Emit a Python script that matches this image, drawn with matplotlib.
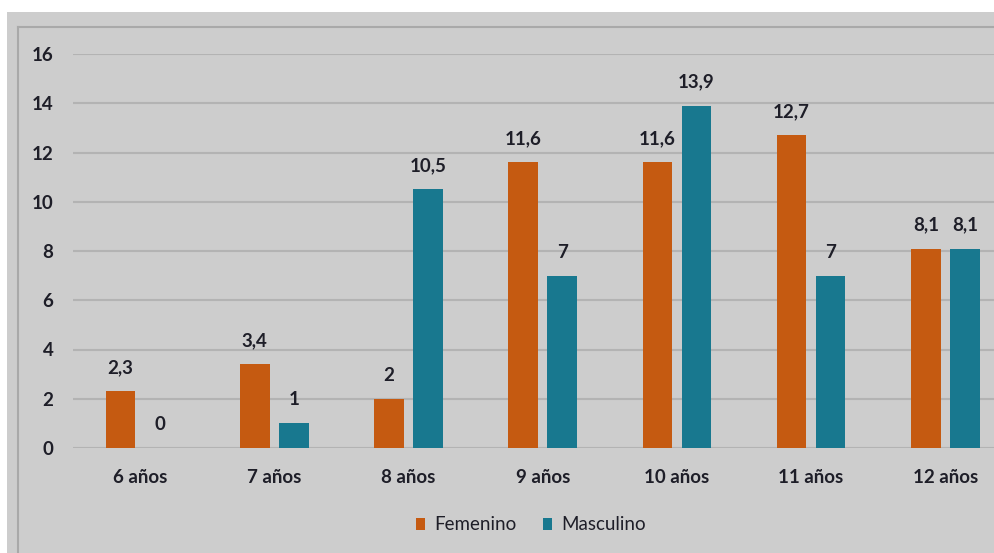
import numpy as np
import matplotlib.pyplot as plt
from matplotlib.patches import Rectangle
from matplotlib.lines import Line2D

plt.rcParams['font.family'] = ['Lato', 'DejaVu Sans']

edades = ['6 años', '7 años', '8 años', '9 años', '10 años', '11 años', '12 años']
femenino = [2.3, 3.4, 2.0, 11.6, 11.6, 12.7, 8.1]
masculino = [0, 1, 10.5, 7, 13.9, 7, 8.1]

naranja = '#c55a11'
azul = '#18788f'
texto = '#1e1e28'
fondo = '#cdcdcd'
fs = 13.5

fig = plt.figure(figsize=(9.94, 5.53), dpi=100)
fig.patch.set_facecolor('white')

# gray panel with the inner frame line, kept behind the axes
W, H = 994, 553
fig.patches.append(Rectangle((7 / W, 0), 1, 1 - 12 / H, transform=fig.transFigure,
                             facecolor=fondo, edgecolor='none', zorder=-2))
fig.lines.append(Line2D([18 / W, 18 / W], [0, 1 - 27 / H], transform=fig.transFigure,
                        color='#a9a9a9', lw=1.5, zorder=-1))
fig.lines.append(Line2D([18 / W, 1], [1 - 27 / H, 1 - 27 / H], transform=fig.transFigure,
                        color='#a9a9a9', lw=1.5, zorder=-1))

ax = fig.add_axes([73 / W, (H - 448) / H, (W - 73) / W, (448 - 54) / H])
ax.set_facecolor('none')

x = np.arange(len(edades))
ancho = 0.22
sep = 0.145
b1 = ax.bar(x - sep, femenino, ancho, color=naranja, label='Femenino', zorder=3)
b2 = ax.bar(x + sep, masculino, ancho, color=azul, label='Masculino', zorder=3)

def etiqueta(v):
    return ('%g' % v).replace('.', ',')

for barras, vals in ((b1, femenino), (b2, masculino)):
    for b, v in zip(barras, vals):
        ax.annotate(etiqueta(v), (b.get_x() + b.get_width() / 2, v),
                    xytext=(0, 17), textcoords='offset points',
                    ha='center', va='center', fontsize=fs, fontweight='bold',
                    color=texto, annotation_clip=False)

ax.set_ylim(0, 16)
ax.set_yticks(range(0, 17, 2))
ax.set_xlim(-0.5, (W - 73) / 134.2 - 0.5)
ax.set_xticks(x)
ax.set_xticklabels(edades)
ax.yaxis.grid(True, color='#b3b3b3', lw=1.5, zorder=0)
ax.set_axisbelow(True)
for s in ax.spines.values():
    s.set_visible(False)
ax.tick_params(axis='both', length=0, labelsize=fs, labelcolor=texto)
ax.tick_params(axis='y', pad=14)
ax.tick_params(axis='x', pad=15)
for t in ax.get_xticklabels() + ax.get_yticklabels():
    t.set_fontweight('bold')

leg = fig.legend(loc='center', bbox_to_anchor=(531 / W, 1 - 525 / H), ncol=2,
                 frameon=False, fontsize=fs, handlelength=0.5, handleheight=0.65,
                 handletextpad=0.5, columnspacing=1.4)
for t in leg.get_texts():
    t.set_color(texto)

fig.savefig('out.png', dpi=100, facecolor=fig.get_facecolor())
